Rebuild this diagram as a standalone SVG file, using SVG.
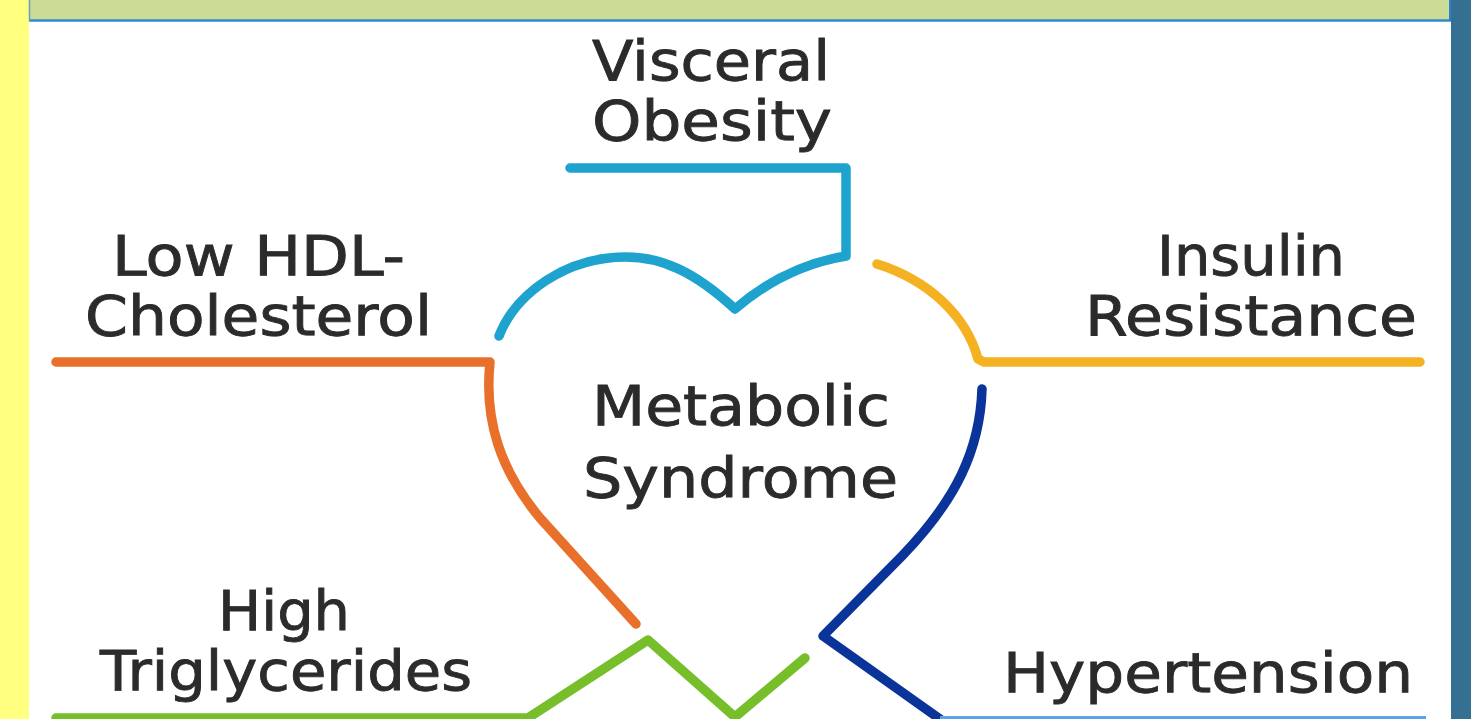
<svg xmlns="http://www.w3.org/2000/svg" width="1471" height="719" viewBox="0 0 1471 719">
<style>
.t{font-family:"DejaVu Sans","Liberation Sans",sans-serif;font-size:56px;fill:#2b2b2b;stroke:#2b2b2b;stroke-width:0.9}
.ln{fill:none;stroke-width:9.5;stroke-linecap:round;stroke-linejoin:round}
</style>
<rect x="0" y="0" width="1471" height="719" fill="#ffffff"/>
<rect x="0" y="0" width="29" height="719" fill="#ffff80"/>
<rect x="1451" y="0" width="20" height="719" fill="#356f92"/>
<rect x="29" y="0" width="1422" height="20" fill="#cadc95"/>
<line x1="29" y1="20.5" x2="1451" y2="20.5" stroke="#2f8bd0" stroke-width="2.5"/>
<line x1="29.5" y1="0" x2="29.5" y2="21" stroke="#6a9cc0" stroke-width="1.5"/>
<line x1="1450" y1="0" x2="1450" y2="21" stroke="#2f7fd0" stroke-width="2"/>

<g id="connectors">
  <path class="ln" stroke="#1ea3cf" d="M570,168 H846 V256 Q785,266 735,309 C695,272 662,257 626,257 C566,257 516,293 499,336"/>
  <path class="ln" stroke="#f4b223" d="M877,264 C928,280 966,315 978,359 L984,362 H1420"/>
  <path class="ln" stroke="#e8702a" d="M56,362 H490 C484,420 500,470 540,518 L636,624"/>
  <path class="ln" stroke="#0b349a" d="M982,389 C980,450 956,500 902,556 L823,636 L940,719"/>
  <path class="ln" stroke="#76bf2a" d="M56,718 H528 L648,640 L735,717 L805,658"/>
  <line x1="940" y1="717.5" x2="1426" y2="717.5" stroke="#5aa3e6" stroke-width="3"/>
</g>

<g id="visceral-obesity">
  <text class="t" x="592" y="80" textLength="238" lengthAdjust="spacingAndGlyphs">Visceral</text>
  <text class="t" x="592" y="140" textLength="240" lengthAdjust="spacingAndGlyphs">Obesity</text>
</g>
<g id="low-hdl">
  <text class="t" x="112" y="275" textLength="293" lengthAdjust="spacingAndGlyphs">Low HDL-</text>
  <text class="t" x="85" y="335" textLength="347" lengthAdjust="spacingAndGlyphs">Cholesterol</text>
</g>
<g id="insulin-resistance">
  <text class="t" x="1157" y="275" textLength="188" lengthAdjust="spacingAndGlyphs">Insulin</text>
  <text class="t" x="1085" y="335" textLength="332" lengthAdjust="spacingAndGlyphs">Resistance</text>
</g>
<g id="metabolic-syndrome">
  <text class="t" x="592" y="425" textLength="298" lengthAdjust="spacingAndGlyphs">Metabolic</text>
  <text class="t" x="583" y="497" textLength="315" lengthAdjust="spacingAndGlyphs">Syndrome</text>
</g>
<g id="high-triglycerides">
  <text class="t" x="218" y="630" textLength="132" lengthAdjust="spacingAndGlyphs">High</text>
  <text class="t" x="100" y="690" textLength="372" lengthAdjust="spacingAndGlyphs">Triglycerides</text>
</g>
<g id="hypertension">
  <text class="t" x="1003" y="692" textLength="410" lengthAdjust="spacingAndGlyphs">Hypertension</text>
</g>
</svg>
